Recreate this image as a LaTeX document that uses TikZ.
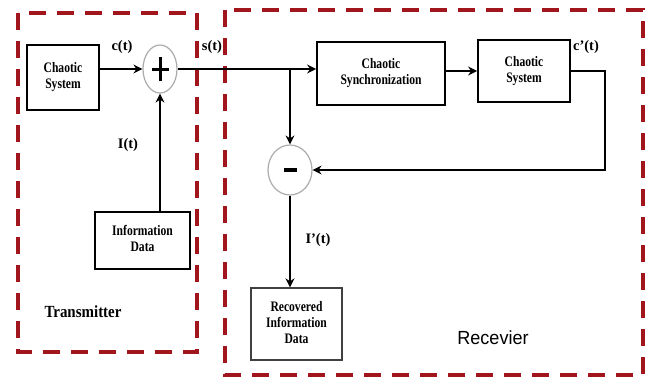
\documentclass[tikz,border=0pt]{standalone}
\usepackage{graphicx}
\usepackage{fontspec}
\setmainfont{Liberation Serif}
\newfontfamily\sansf{Liberation Sans}
\usetikzlibrary{arrows.meta,shapes.geometric}
\definecolor{regred}{RGB}{160,22,28}
\newcommand{\narrowtext}[1]{\scalebox{0.8}[1]{\begin{tabular}{@{}c@{}}#1\end{tabular}}}
\begin{document}
\begin{tikzpicture}[x=1pt,y=-1pt,
  blk/.style={draw, line width=1.8pt, inner sep=0pt,
    font=\bfseries\fontsize{14.5}{16}\selectfont},
  sumc/.style={draw=gray!65, line width=1.2pt, ellipse, inner sep=0pt},
  arr/.style={line width=1.8pt, -{Stealth[length=9pt,width=9pt,inset=3pt]}},
  sign/.style={line width=3pt},
  lbl/.style={font=\bfseries\fontsize{14.5}{15}\selectfont, inner sep=0pt},
  region/.style={draw=regred, line width=3.8pt, dash pattern=on 17pt off 11pt}]
\fill[white] (0,0) rectangle (653,380);
\useasboundingbox (0,0) rectangle (653,380);
% regions
\draw[region] (18,13) rectangle (197,352);
\draw[region] (225,10) rectangle (643,375);
% blocks
\node[blk, minimum width=72pt, minimum height=65pt] (txsys) at (63,77.5) {\narrowtext{Chaotic\\System}};
\node[sumc, minimum width=34pt, minimum height=48pt] (plus) at (160,69) {};
\node[blk, minimum width=95pt, minimum height=57pt] (info) at (142.5,240.5) {\narrowtext{Information\\Data}};
\node[blk, minimum width=128pt, minimum height=63pt] (sync) at (381,73.5) {\narrowtext{Chaotic\\Synchronization}};
\node[blk, minimum width=92pt, minimum height=62pt] (rxsys) at (524,71) {\narrowtext{Chaotic\\System}};
\node[sumc, minimum width=44pt, minimum height=50pt] (minus) at (290,170) {};
\node[blk, draw=black!75, line width=1.3pt, minimum width=91pt, minimum height=72pt] (rec) at (296.5,324) {\narrowtext{Recovered\\Information\\Data}};
% signs
\draw[sign] ([xshift=-8.5pt]plus.center) -- ([xshift=8.5pt]plus.center);
\draw[sign] ([yshift=-12pt]plus.center) -- ([yshift=12pt]plus.center);
\draw[sign, line width=4pt] ([xshift=-6.5pt]minus.center) -- ([xshift=6.5pt]minus.center);
% connectors
\coordinate (br) at (minus |- plus);
\coordinate (fb) at (605,0);
\draw[arr] (txsys.east |- plus) -- (plus.west);
\draw[arr] (plus.east) -- (plus -| sync.west);
\draw[arr] (info.north -| plus) -- (plus.south);
\draw[arr] (br) -- (minus.north);
\draw[arr] (sync.east |- rxsys) -- (rxsys.west);
\draw[arr] (rxsys.east) -- (fb |- rxsys) -- (fb |- minus) -- (minus.east);
\draw[arr] (minus.south) -- (minus |- rec.north);
% labels
\node[lbl] (lc) at (122,47) {c(t)};
\node[lbl] (ls) at (212,47) {s(t)};
\node[lbl] (li) at (128,145) {I(t)};
\node[lbl] (lcp) at (586,47) {c’(t)};
\node[lbl] (lip) at (318,240) {I’(t)};
\node[font=\bfseries\fontsize{17}{18}\selectfont, inner sep=0pt] (tx) at (83,312) {\scalebox{0.88}[1]{Transmitter}};
\node[font=\sansf\fontsize{19}{20}\selectfont, inner sep=0pt] (rx) at (493,338) {\scalebox{0.95}[1]{Recevier}};
\end{tikzpicture}
\end{document}
